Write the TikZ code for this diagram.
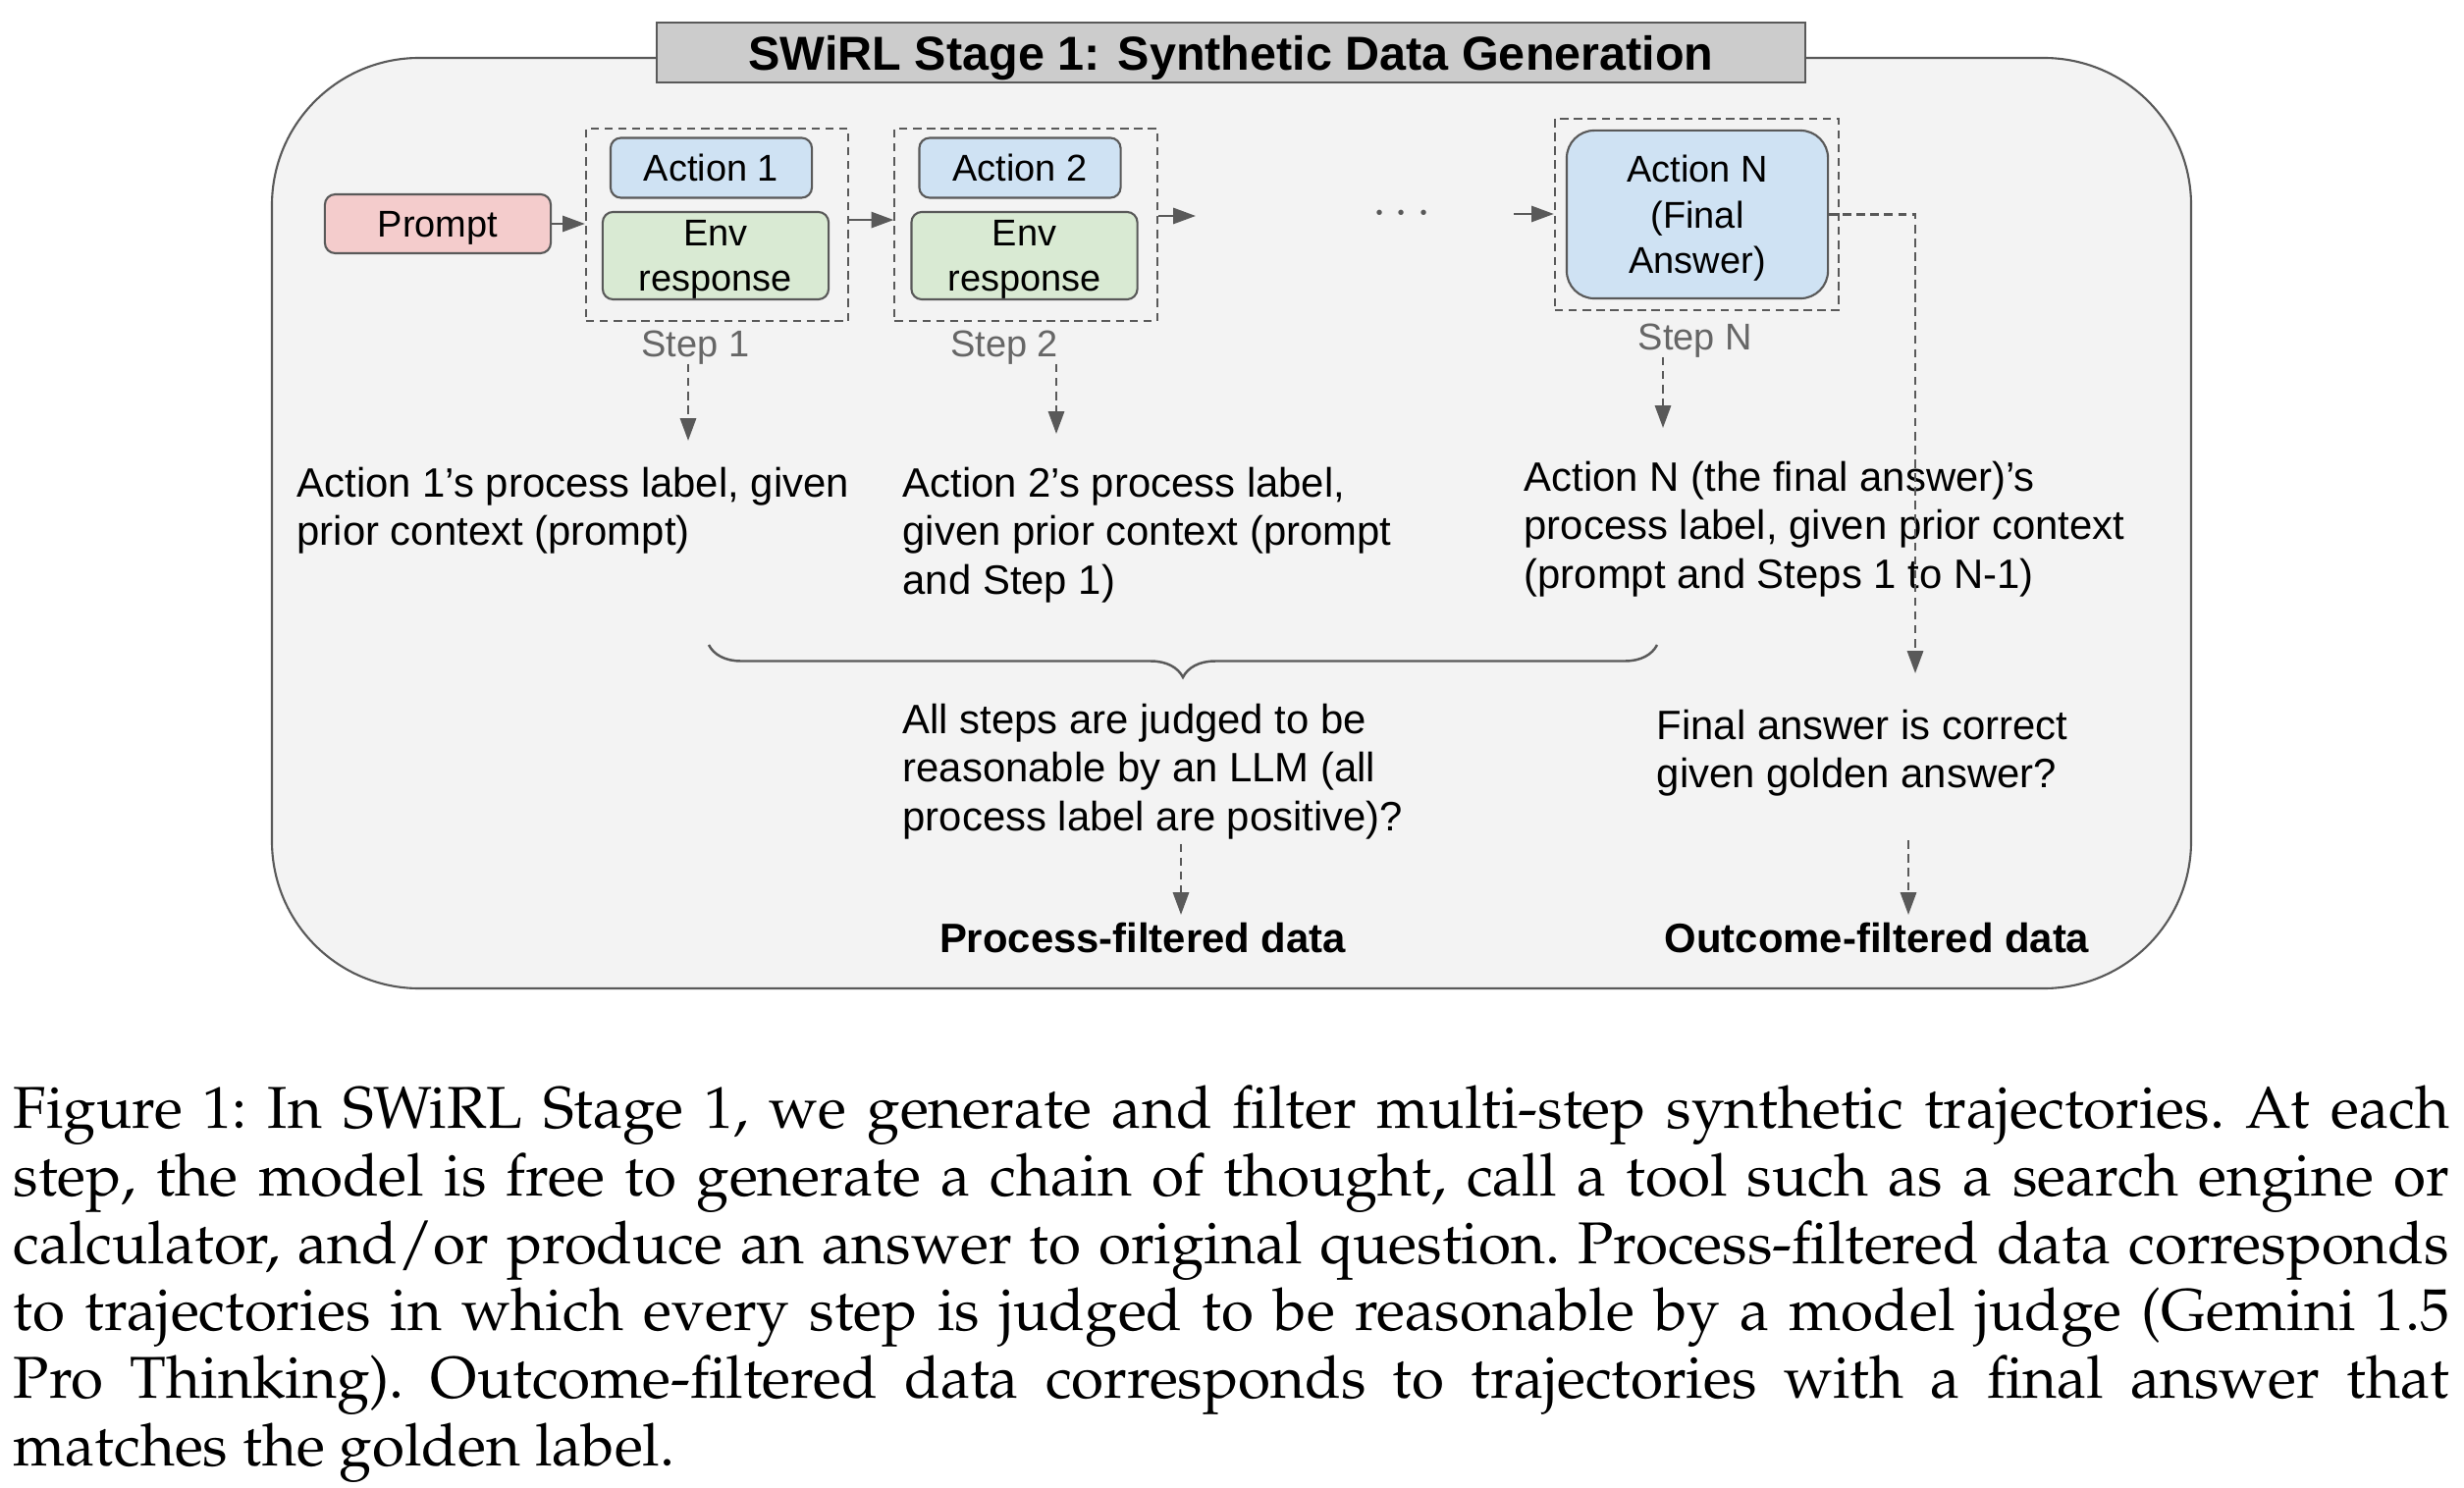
\documentclass[tikz,border=0pt]{standalone}
\usepackage[T1]{fontenc}
\usepackage{fontspec}
\setmainfont{Liberation Sans}
\usetikzlibrary{positioning, arrows.meta, decorations.pathreplacing}

\definecolor{frameline}{HTML}{595959}
\definecolor{panelbg}{HTML}{F3F3F3}
\definecolor{titlebg}{HTML}{CCCCCC}
\definecolor{promptbg}{HTML}{F4CCCC}
\definecolor{actionbg}{HTML}{CFE2F3}
\definecolor{envbg}{HTML}{D9EAD3}
\definecolor{steptext}{HTML}{666666}

\newcommand{\capfont}{\fontencoding{T1}\fontfamily{ppl}\fontsize{17.1}{19.6}\selectfont\frenchspacing\hyphenpenalty=10000\exhyphenpenalty=10000}

\begin{document}
\begin{tikzpicture}[x=0.01cm, y=-0.01cm]
        % Styles
        \tikzstyle{box} = [draw=frameline, line width=0.6pt, rounded corners=3pt, inner sep=0pt, text depth=0pt, align=center, font=\fontsize{10.8}{13.2}\selectfont]
        \tikzstyle{stepframe} = [draw=frameline, line width=0.6pt, dash pattern=on 2.4pt off 1.6pt, inner sep=0pt]
        \tikzstyle{steplabel} = [text=steptext, inner sep=0pt, text depth=0pt, font=\fontsize{10.8}{13}\selectfont]
        \tikzstyle{flow} = [draw=frameline, line width=0.7pt, -{Triangle[length=6.5pt, width=4.6pt]}]
        \tikzstyle{dflow} = [flow, dash pattern=on 2.4pt off 1.6pt]
        \tikzstyle{note} = [anchor=north west, inner sep=0pt, align=left, font=\fontsize{11.9}{14.2}\selectfont]
        \tikzstyle{result} = [inner sep=0pt, font=\fontsize{11.9}{14.2}\selectfont\bfseries]

        \useasboundingbox (0,0) rectangle (2510,1516);

        % Panel and title
        \draw[draw=frameline, fill=panelbg, line width=0.6pt, rounded corners=1.5cm] (277,59) rectangle (2232,1007);
        \node[draw=frameline, fill=titlebg, line width=0.6pt, minimum width=11.7cm, minimum height=0.61cm, inner sep=0pt, text depth=0pt, font=\fontsize{13.8}{16}\selectfont\bfseries] (title) at (1254,53.5) {SWiRL Stage 1: Synthetic Data Generation};

        % Prompt
        \node[box, fill=promptbg, minimum width=2.30cm, minimum height=0.60cm] (prompt) at (446,228) {Prompt};

        % Steps 1 and 2
        \foreach \i/\cx in {1/730.5, 2/1045} {
            \node[stepframe, minimum width=2.67cm, minimum height=1.96cm] (step\i) at (\cx,229) {};
            \node[box, fill=actionbg, minimum width=2.05cm, minimum height=0.61cm] (act\i) at (\cx-6,171) {Action \i};
            \node[box, fill=envbg, minimum width=2.30cm, minimum height=0.89cm] (env\i) at (\cx-1.5,260.5) {Env\\response};
            \node[steplabel] (step\i l) at (\cx-22,350) {Step \i};
        }

        % Step N
        \node[text=frameline, inner sep=0pt, font=\fontsize{14}{14}\selectfont] (dots) at (1428,218) {$\cdots$};
        \node[stepframe, minimum width=2.89cm, minimum height=1.95cm] (stepN) at (1728.5,218.5) {};
        \node[box, fill=actionbg, rounded corners=8pt, minimum width=2.66cm, minimum height=1.71cm] (actN) at (1729,218.5) {Action N\\(Final\\Answer)};
        \node[steplabel] (stepNl) at (1727,343) {Step N};

        % Chain arrows
        \coordinate (cont) at (1218,220);
        \coordinate (resume) at (1542,218);
        \draw[flow] (prompt.east) -- (prompt.east -| step1.west);
        \draw[flow] ([yshift=1.4pt]step1.east) -- ([yshift=1.4pt]step2.west);
        \draw[flow] (step2.east |- cont) -- (cont);
        \draw[flow] (resume) -- (resume -| stepN.west);

        % Process labels
        \node[note] (lab1) at (302,475) {Action 1's process label, given\\prior context (prompt)};
        \node[note] (lab2) at (919,475) {Action 2's process label,\\given prior context (prompt\\and Step 1)};
        \node[note] (lab3) at (1552,469) {Action N (the final answer)'s\\process label, given prior context\\(prompt and Steps 1 to N-1)};

        \coordinate (tip1) at (701,449);
        \coordinate (tip2) at (1076,442);
        \coordinate (tipN) at (1694,436);
        \draw[dflow, shorten <=2pt] (step1l.south -| tip1) -- (tip1);
        \draw[dflow, shorten <=2pt] (step2l.south -| tip2) -- (tip2);
        \draw[dflow, shorten <=2pt] (stepNl.south -| tipN) -- (tipN);

        % Brace over the process labels
        \coordinate (br1) at (722,657);
        \coordinate (br2) at (1688,657);
        \draw[frameline, line width=0.7pt, decorate, decoration={brace, mirror, amplitude=0.33cm}] (br1) -- (br2);

        % Filters
        \node[note] (lab4) at (919,716) {All steps are judged to be\\reasonable by an LLM (all\\process label are positive)?};
        \node[note] (lab5) at (1687,722) {Final answer is correct\\given golden answer?};
        \node[result] (proc) at (1164,956) {Process-filtered data};
        \node[result] (outc) at (1912,956) {Outcome-filtered data};

        \coordinate (tipF) at (1951,686);
        \coordinate (tipP) at (1203,932);
        \coordinate (tipO) at (1944,932);
        \draw[dflow] (actN.east) -| (tipF);
        \draw[dflow, shorten <=1pt] (lab4.south -| tipP) -- (tipP);
        \draw[dflow, shorten <=12.5pt] (lab5.south -| tipO) -- (tipO);

        % Caption
        \node[anchor=north west, inner sep=0pt, text width=24.8cm, align=justify, font=\capfont] (caption) at (13,1105) {Figure 1: In SWiRL Stage 1, we generate and filter multi-step synthetic trajectories. At each\linebreak step, the model is free to generate a chain of thought, call a tool such as a search engine or\linebreak calculator, and/or produce an answer to original question. Process-filtered data corresponds\linebreak to trajectories in which every step is judged to be reasonable by a model judge (Gemini 1.5\linebreak Pro Thinking). Outcome-filtered data corresponds to trajectories with a final answer that\linebreak matches the golden label.};

    \end{tikzpicture}
\end{document}
